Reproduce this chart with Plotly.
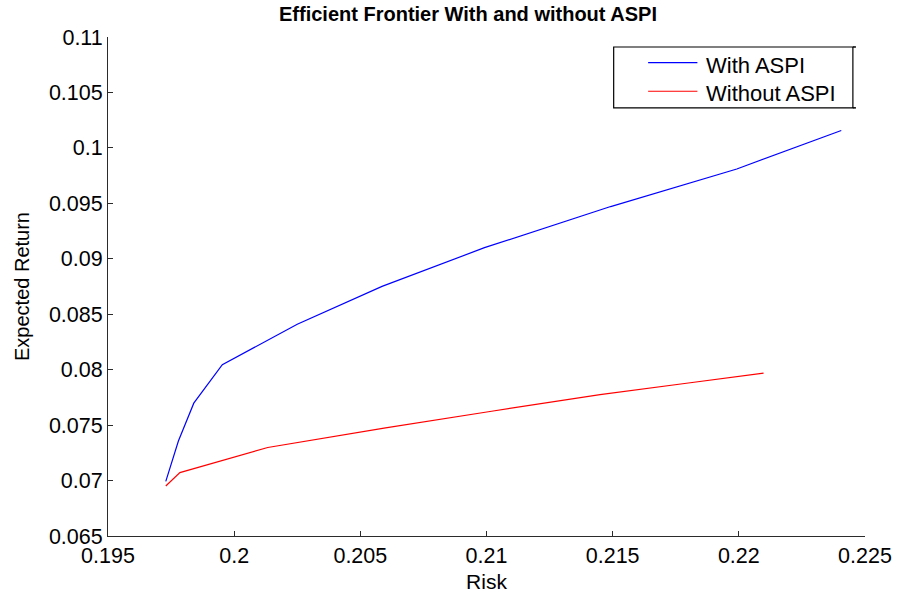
import plotly.graph_objects as go

# Efficient frontier points (risk, expected return)
risk_with = [0.19729, 0.19779, 0.19840, 0.19953, 0.20250, 0.20586, 0.20992, 0.21492, 0.21992, 0.22406]
ret_with = [0.06992, 0.07357, 0.07698, 0.08045, 0.08410, 0.08751, 0.09100, 0.09471, 0.09810, 0.10157]

risk_without = [0.19729, 0.19785, 0.20133, 0.20600, 0.21020, 0.21450, 0.21800, 0.22098]
ret_without = [0.06951, 0.07072, 0.07298, 0.07475, 0.07625, 0.07775, 0.07880, 0.07968]

x_ticks = [0.195, 0.2, 0.205, 0.21, 0.215, 0.22, 0.225]
y_ticks = [0.065, 0.07, 0.075, 0.08, 0.085, 0.09, 0.095, 0.1, 0.105, 0.11]

series_names = ["With ASPI", "Without ASPI"]
series_colors = ["#0000ff", "#ff0000"]

FONT = "Liberation Sans, Arial, sans-serif"
AXIS_COLOR = "#2b2b2b"

fig = go.Figure()
fig.add_trace(go.Scatter(x=risk_with, y=ret_with, mode="lines", name=series_names[0],
                         line=dict(color=series_colors[0], width=1.2), showlegend=False))
fig.add_trace(go.Scatter(x=risk_without, y=ret_without, mode="lines", name=series_names[1],
                         line=dict(color=series_colors[1], width=1.2), showlegend=False))

axis_common = dict(
    showgrid=False, zeroline=False, showline=True, linecolor=AXIS_COLOR, linewidth=1,
    ticks="inside", ticklen=5, tickcolor=AXIS_COLOR, tickwidth=1,
    tickfont=dict(family=FONT, size=21.5, color="#000"),
)

fig.update_layout(
    width=904, height=601,
    margin=dict(l=108, r=28, t=37, b=58),
    paper_bgcolor="white", plot_bgcolor="white",
    title=dict(text="<b>Efficient Frontier With and without ASPI</b>",
               x=468 / 904, xanchor="center", y=1 - 14 / 601, yanchor="middle",
               font=dict(family=FONT, size=20, color="#000")),
    xaxis=dict(range=[0.195, 0.225], tickvals=x_ticks, ticktext=[f"{v:g}" for v in x_ticks],
               title=dict(text="Risk", standoff=7, font=dict(family=FONT, size=21, color="#000")),
               **axis_common),
    yaxis=dict(range=[0.065, 0.11], tickvals=y_ticks, ticktext=[f"{v:g}" for v in y_ticks],
               title=dict(text="Expected Return", standoff=13, font=dict(family=FONT, size=20, color="#000")),
               **axis_common),
)

# Legend box drawn in paper coordinates
box_x0, box_x1, box_y0, box_y1 = 0.668, 0.984, 0.858, 0.980
fig.add_shape(type="rect", xref="paper", yref="paper", x0=box_x0, x1=box_x1, y0=box_y0, y1=box_y1,
              line=dict(color="#000", width=1.2), fillcolor="white", layer="above")
# small stubs on the right edge of the box
for yy in (box_y0, box_y1):
    fig.add_shape(type="line", xref="paper", yref="paper", x0=box_x1, x1=box_x1 + 0.004, y0=yy, y1=yy,
                  line=dict(color="#000", width=1.5), layer="above")
sample_x0, sample_x1, text_x = 0.7135, 0.7786, 0.7878
line_ys = [0.9485, 0.8913]
text_ys = [0.9427, 0.8874]
for name, color, ly, ty in zip(series_names, series_colors, line_ys, text_ys):
    fig.add_shape(type="line", xref="paper", yref="paper", x0=sample_x0, x1=sample_x1, y0=ly, y1=ly,
                  line=dict(color=color, width=1.2), layer="above")
    fig.add_annotation(xref="paper", yref="paper", x=text_x, y=ty, text=name, showarrow=False,
                       xanchor="left", yanchor="middle",
                       font=dict(family=FONT, size=22, color="#000"))

fig.write_html("out.html")
